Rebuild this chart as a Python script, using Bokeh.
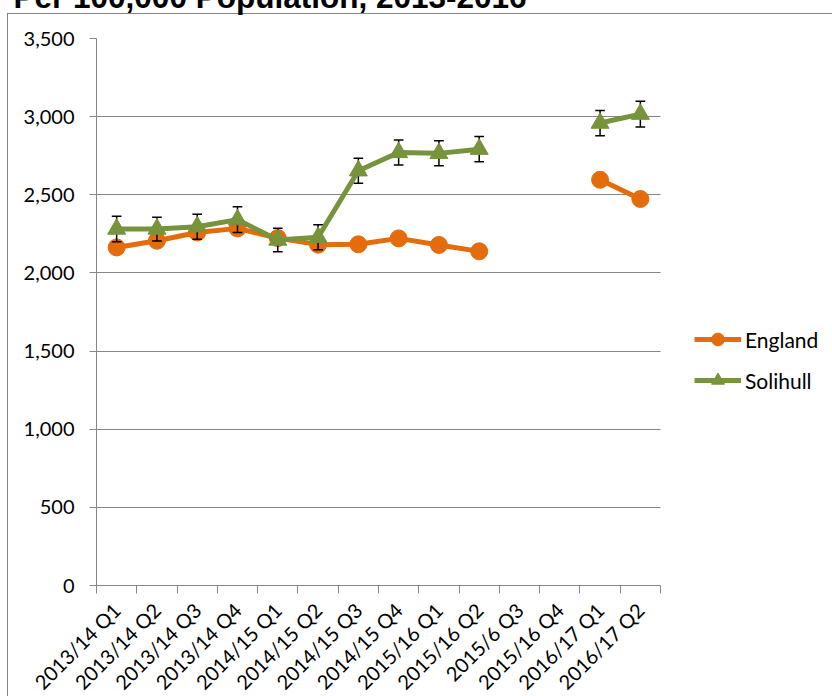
import math
from bokeh.plotting import figure
from bokeh.models import (FixedTicker, NumeralTickFormatter, Range1d, Legend, LegendItem,
                          Title, ColumnDataSource)
from bokeh.embed import file_html
from bokeh.resources import INLINE

NAN = float("nan")

title_text = "Per 100,000 Population, 2013-2016"
categories = ["2013/14 Q1", "2013/14 Q2", "2013/14 Q3", "2013/14 Q4",
              "2014/15 Q1", "2014/15 Q2", "2014/15 Q3", "2014/15 Q4",
              "2015/16 Q1", "2015/16 Q2", "2015/6 Q3", "2015/16 Q4",
              "2016/17 Q1", "2016/17 Q2"]
england = [2163, 2206, 2259, 2285, 2223, 2181, 2183, 2221, 2179, 2138, NAN, NAN, 2596, 2473]
solihull = [2281, 2281, 2296, 2341, 2211, 2228, 2654, 2771, 2765, 2792, NAN, NAN, 2959, 3016]
solihull_err = [82, 76, 80, 82, 75, 80, 80, 80, 80, 81, NAN, NAN, 81, 83]
y_ticks = [0, 500, 1000, 1500, 2000, 2500, 3000, 3500]

ORANGE = "#E46C0A"
GREEN = "#77933C"
GRAY = "#868686"
FONT = "Lato"

n = len(categories)
xs = [i + 0.5 for i in range(n)]

# layout (pixels)
W = 832
LEFT = 96
PLOT_W = 564          # width of the category area
TOP = 100             # canvas space above the plot frame (partly above the page)
SHIFT = 62            # how far the canvas starts above the page
FRAME_H = 547
BOTTOM = 140
x_end = n * (W - LEFT) / PLOT_W   # frame extends right so the legend sits inside it

border_css = ("linear-gradient(#868686,#868686) 7px 75px / 1px 100% no-repeat, "
              "linear-gradient(#868686,#868686) 7px 75px / 100% 1px no-repeat, white")
p = figure(width=W, height=TOP + FRAME_H + BOTTOM, output_backend="svg", toolbar_location=None,
           x_range=Range1d(0, x_end), y_range=Range1d(0, y_ticks[-1]),
           min_border_left=LEFT, min_border_right=0, min_border_top=TOP,
           min_border_bottom=BOTTOM,
           styles={"background": border_css, "margin-top": f"-{SHIFT}px",
                   "margin-bottom": "-29px"})
p.outline_line_color = None
p.background_fill_color = "white"
p.border_fill_color = None
p.xgrid.visible = False
p.ygrid.ticker = FixedTicker(ticks=y_ticks)
p.ygrid.grid_line_color = GRAY
p.ygrid.grid_line_width = 1
p.ygrid.cross_bounds = (0, n)

p.add_layout(Title(text=title_text, align="left", offset=-83, standoff=48,
                   vertical_align="bottom", text_font="Liberation Sans",
                   text_font_style="bold", text_font_size="31.5px", text_color="black"),
             "above")

ya = p.yaxis[0]
ya.ticker = FixedTicker(ticks=y_ticks)
ya.formatter = NumeralTickFormatter(format="0,0")
ya.axis_line_color = GRAY
ya.major_tick_line_color = GRAY
ya.major_tick_out = 7
ya.major_tick_in = 0
ya.minor_tick_line_color = None
ya.major_label_standoff = 15
ya.major_label_text_font = FONT
ya.major_label_text_font_size = "20px"
ya.major_label_text_color = "black"

xa = p.xaxis[0]
xa.bounds = (0, n)
xa.ticker = FixedTicker(ticks=xs, minor_ticks=list(range(n + 1)))
xa.major_label_overrides = {x: c for x, c in zip(xs, categories)}
xa.axis_line_color = GRAY
xa.major_tick_line_color = None
xa.major_tick_out = 0
xa.major_tick_in = 0
xa.minor_tick_line_color = GRAY
xa.minor_tick_out = 8
xa.minor_tick_in = 0
xa.major_label_orientation = math.pi / 4
xa.major_label_standoff = 13
xa.major_label_text_font = FONT
xa.major_label_text_font_size = "20px"
xa.major_label_text_color = "black"

# England
src_e = ColumnDataSource(dict(x=xs, y=england))
eng_line = p.line("x", "y", source=src_e, line_color=ORANGE, line_width=5)
eng_pts = p.scatter("x", "y", source=src_e, marker="circle", size=17,
                    fill_color=ORANGE, line_color=ORANGE)

# Solihull error bars
ex, lo, hi = [], [], []
for x, v, e in zip(xs, solihull, solihull_err):
    if not (math.isnan(v) or math.isnan(e)):
        ex.append(x)
        lo.append(v - e)
        hi.append(v + e)
cap = 0.12
p.segment(x0=ex, y0=lo, x1=ex, y1=hi, line_color="black", line_width=1.5)
p.segment(x0=[x - cap for x in ex], y0=hi, x1=[x + cap for x in ex], y1=hi,
          line_color="black", line_width=1.5)
p.segment(x0=[x - cap for x in ex], y0=lo, x1=[x + cap for x in ex], y1=lo,
          line_color="black", line_width=1.5)

# Solihull
src_s = ColumnDataSource(dict(x=xs, y=solihull))
sol_line = p.line("x", "y", source=src_s, line_color=GREEN, line_width=5)
sol_pts = p.scatter("x", "y", source=src_s, marker="triangle", size=18,
                    fill_color=GREEN, line_color=GREEN)

legend = Legend(items=[LegendItem(label="England", renderers=[eng_line, eng_pts]),
                       LegendItem(label="Solihull", renderers=[sol_line, sol_pts])],
                location=(598, 189), orientation="vertical",
                glyph_width=47, glyph_height=32, spacing=9, padding=0, margin=0,
                label_standoff=4, border_line_color=None, background_fill_alpha=0,
                label_text_font=FONT, label_text_font_size="21px",
                label_text_color="black")
p.add_layout(legend)

open("out.html", "w").write(file_html(p, INLINE))
